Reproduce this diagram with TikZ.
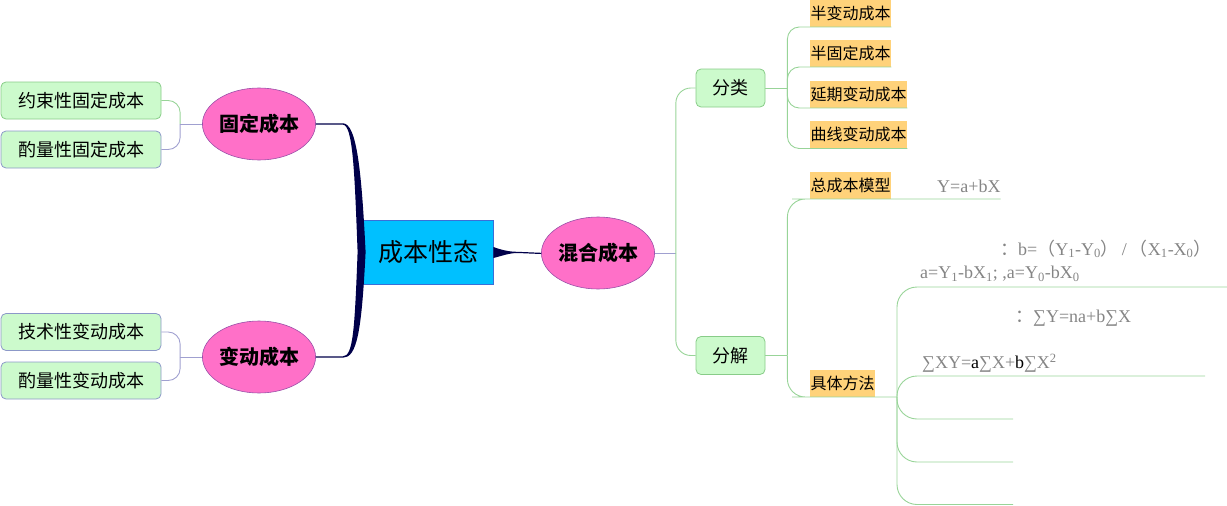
\documentclass[tikz,border=0pt]{standalone}
\usepackage{fontspec}
\setmainfont{Noto Sans CJK SC}
\newfontfamily\ser{Liberation Serif}
\usetikzlibrary{calc,shapes.geometric}
\definecolor{navy}{HTML}{00004A}
\definecolor{cyanbox}{HTML}{00C0FF}
\definecolor{cyanborder}{HTML}{3A6FD8}
\definecolor{pinkfill}{HTML}{FF70C8}
\definecolor{pinkborder}{HTML}{9A50A8}
\definecolor{lgreen}{HTML}{CCFACC}
\definecolor{gborder}{HTML}{88CC88}
\definecolor{bborder}{HTML}{8C98C8}
\definecolor{lav}{HTML}{A0A0D0}
\definecolor{gline}{HTML}{98D498}
\definecolor{hl}{HTML}{FFD27A}
\definecolor{formula}{HTML}{858585}
\tikzset{
  rootbox/.style={draw=cyanborder, fill=cyanbox, line width=0.8pt, minimum width=130, minimum height=64, inner sep=0pt, font=\fontsize{25}{28}\selectfont},
  ell/.style={ellipse, draw=pinkborder, fill=pinkfill, line width=0.6pt, minimum width=108, minimum height=72, inner sep=0pt, font=\fontsize{20}{22}\selectfont\bfseries},
  lbox/.style={draw=#1, fill=lgreen, rounded corners=5pt, line width=0.8pt, minimum width=160, minimum height=37, inner sep=0pt, font=\fontsize{18}{20}\selectfont},
  rbox/.style={draw=gborder, fill=lgreen, rounded corners=5pt, line width=0.8pt, minimum width=69, minimum height=38, inner sep=0pt, font=\fontsize{18}{20}\selectfont},
  hlbox/.style={fill=hl, anchor=south west, inner xsep=0.5pt, inner ysep=0pt, minimum height=27, font=\fontsize{16}{18}\selectfont},
  fml/.style={anchor=west, inner sep=0pt, text=formula, font=\ser\fontsize{18}{20}\selectfont},
  gconn/.style={draw=gline, line width=0.9pt},
  lconn/.style={draw=lav, line width=0.9pt},
}
\begin{document}
\begin{tikzpicture}[x=1pt,y=-1pt]
\useasboundingbox (0,0) rectangle (1227,506);
% main nodes
\node[rootbox] (root) at (428,252) {成本性态};
\node[ell] (gd) at (259,124) {固定成本};
\node[ell] (bd) at (259,357) {变动成本};
\node[ell] (hh) at (598,253) {混合成本};
% left boxes
\node[lbox=gborder] (a1) at (81,100.5) {约束性固定成本};
\node[lbox=bborder] (a2) at (81,149.5) {酌量性固定成本};
\node[lbox=bborder] (b1) at (81,332) {技术性变动成本};
\node[lbox=bborder] (b2) at (81,380.5) {酌量性变动成本};
% right boxes
\node[rbox] (fl) at (730.5,88) {分类};
\node[rbox] (fj) at (730.5,355.5) {分解};
% highlighted children
\node[hlbox] (c1) at (810,27) {半变动成本};
\node[hlbox] (c2) at (810,67) {半固定成本};
\node[hlbox] (c3) at (810,108) {延期变动成本};
\node[hlbox] (c4) at (810,148.5) {曲线变动成本};
\node[hlbox] (d1) at (810,199) {总成本模型};
\node[hlbox] (d2) at (810,397) {具体方法};
% formulas
\node[fml] (f0) at (937,186) {Y=a+bX};
\node[fml] (f1) at (1000,249) {{\rmfamily ：}b={\rmfamily （}Y\textsubscript{1}-Y\textsubscript{0}{\rmfamily ）}\,/\,{\rmfamily （}X\textsubscript{1}-X\textsubscript{0}{\rmfamily ）}};
\node[fml] (f2) at (920,274) {a=Y\textsubscript{1}-bX\textsubscript{1}; ,a=Y\textsubscript{0}-bX\textsubscript{0}};
\node[fml] (f3) at (1015,318) {{\rmfamily ：}∑Y=na+b∑X};
\node[fml] (f4) at (922,363) {∑XY={\color{black}a}∑X+{\color{black}b}∑X\textsuperscript{2}};
% tapered navy connectors
\fill[navy] ($(gd.east)+(0,-0.7)$) -- ($(gd.east)+(27,-0.7)$)
  .. controls +(14,0) and +(-4,-80) .. ($(root.west)+(3,0)$)
  -- ($(root.west)+(-5,0)$)
  .. controls +(-3,-80) and +(10,0) .. ($(gd.east)+(27,0.7)$)
  -- ($(gd.east)+(0,0.7)$) -- cycle;
\fill[navy] ($(bd.east)+(0,0.7)$) -- ($(bd.east)+(27,0.7)$)
  .. controls +(14,0) and +(-4,80) .. ($(root.west)+(3,0)$)
  -- ($(root.west)+(-5,0)$)
  .. controls +(-3,80) and +(10,0) .. ($(bd.east)+(27,-0.7)$)
  -- ($(bd.east)+(0,-0.7)$) -- cycle;
\fill[navy] ($(root.east)+(0,-5)$) .. controls +(8,3) and +(-8,0) .. ($(root.east)+(24,-0.2)$)
  -- ($(hh.west)+(0,-0.2)$) -- ($(hh.west)+(0,1)$) -- ($(root.east)+(24,1)$)
  .. controls +(-8,0) and +(8,-2) .. ($(root.east)+(0,6)$) -- cycle;
% left brackets
\coordinate (jg) at ($(gd.west)+(-22,0)$);
\coordinate (jb) at ($(bd.west)+(-22,0)$);
\draw[gconn, rounded corners=12pt] (jg) |- (a1.east);
\draw[lconn, rounded corners=12pt] (jg) |- (a2.east);
\draw[lconn] (gd.west) -- (jg);
\draw[lconn, rounded corners=12pt] (jb) |- (b1.east);
\draw[lconn, rounded corners=12pt] (jb) |- (b2.east);
\draw[lconn] (bd.west) -- (jb);
% right side
\coordinate (jh) at ($(hh.east)+(21,0)$);
\draw[lconn] (hh.east) -- (jh);
\draw[gconn, rounded corners=15pt] (jh) |- (fl.west);
\draw[gconn, rounded corners=15pt] (jh) |- (fj.west);
\coordinate (jfl) at ($(fl.east)+(22,0)$);
\draw[gconn] (fl.east) -- (jfl);
\foreach \c in {c1,c2,c3,c4}{
  \draw[gconn, rounded corners=12pt] (jfl) |- (\c.south west) -- (\c.south east);
}
\coordinate (jfj) at ($(fj.east)+(22,0)$);
\draw[gconn] (fj.east) -- (jfj);
\coordinate (d1end) at (d1.south west -| f0.east);
\draw[gconn, rounded corners=18pt] (jfj) |- (d1.south west) -- (d1end);
\coordinate (jd) at ($(d2.south west)+(87,0)$);
\draw[gconn, rounded corners=18pt] (jfj) |- (d2.south west) -- (jd);
\coordinate (e1) at (1227,287);
\coordinate (e2) at (1205,376);
\coordinate (e3) at (1013,419);
\coordinate (e4) at (1013,462);
\coordinate (e5) at (1013,504.5);
\foreach \e in {e1,e2,e3,e4,e5}{
  \draw[gconn, rounded corners=20pt] (jd) |- (\e);
}
\end{tikzpicture}
\end{document}
